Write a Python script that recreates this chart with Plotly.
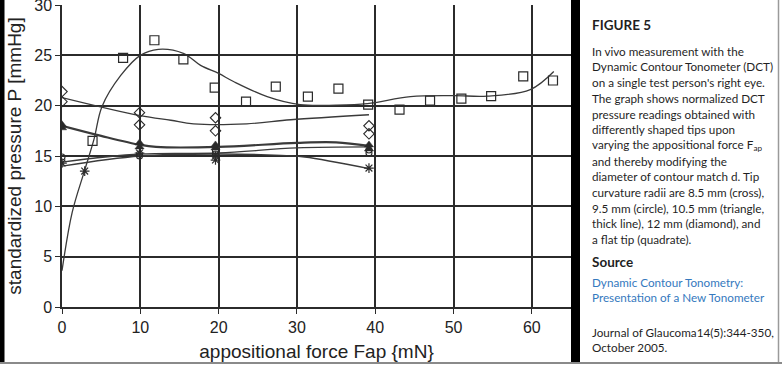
import plotly.graph_objects as go

# ---------------- data ----------------
# flat tip (quadrate)
quad_x = [3.9, 7.8, 11.8, 15.5, 19.5, 23.5, 27.3, 31.4, 35.3, 39.1, 43.1, 47.0, 51.0, 54.8, 58.9, 62.7]
quad_y = [16.5, 24.75, 26.5, 24.6, 21.8, 20.4, 21.9, 20.9, 21.7, 20.1, 19.6, 20.5, 20.7, 20.95, 22.9, 22.5]
quad_fit_x = [0, 1.3, 2.9, 4.1, 5.1, 7.5, 10, 12.3, 15.5, 17.7, 20, 21.9, 26.2, 30.4, 35, 39, 44.5, 50, 54.3, 59.8, 62.8]
quad_fit_y = [3.6, 9.4, 13.6, 16.7, 19.9, 23.0, 25.0, 25.6, 25.2, 24.0, 23.2, 22.4, 20.9, 20.1, 20.05, 20.2, 20.9, 21.0, 20.95, 21.6, 23.4]

# 12 mm (diamond)
dia_x = [0, 0, 9.9, 9.9, 19.6, 19.6, 39.2, 39.2]
dia_y = [21.4, 20.4, 19.3, 18.1, 18.8, 17.5, 18.0, 17.2]
dia_fit_x = [0, 10, 13.9, 16.8, 23.6, 29.2, 39.2]
dia_fit_y = [20.8, 19.0, 18.55, 18.2, 18.2, 18.6, 19.1]

# 10.5 mm (triangle, thick line)
tri_x = [0, 0, 9.9, 9.9, 19.6, 19.6, 39.2, 39.2]
tri_y = [18.1, 17.8, 16.3, 15.9, 16.1, 15.8, 16.1, 15.7]
tri_fit_x = [0, 5, 10, 12, 20, 30, 35, 39.2]
tri_fit_y = [18.0, 17.0, 16.1, 15.9, 15.9, 16.3, 16.35, 16.0]

# 9.5 mm (circle)
cir_x = [0, 9.9, 9.9, 19.6, 19.6, 39.2, 39.2]
cir_y = [14.9, 15.2, 15.0, 15.5, 15.2, 15.6, 15.3]
cir_fit_x = [0, 10, 20, 30, 39.2]
cir_fit_y = [14.4, 15.2, 15.3, 15.8, 15.9]

# 8.5 mm (cross)
crs_x = [0, 2.9, 9.9, 19.6, 19.6, 39.2]
crs_y = [14.3, 13.5, 15.3, 14.6, 15.0, 13.8]
crs_fit_x = [0, 10, 20, 28, 31, 39.2]
crs_fit_y = [14.0, 15.0, 15.2, 15.06, 14.9, 13.75]

x_ticks = [0, 10, 20, 30, 40, 50, 60]
y_ticks = [0, 5, 10, 15, 20, 25, 30]

caption_lines = [
    "In vivo measurement with the",
    "Dynamic Contour Tonometer (DCT)",
    "on a single test person's right eye.",
    "The graph shows normalized DCT",
    "pressure readings obtained with",
    "differently shaped tips upon",
    "varying the appositional force F<sub>ap</sub>",
    "and thereby modifying the",
    "diameter of contour match d. Tip",
    "curvature radii are 8.5 mm (cross),",
    "9.5 mm (circle), 10.5 mm (triangle,",
    "thick line), 12 mm (diamond), and",
    "a flat tip (quadrate).",
]
source_lines = ["Dynamic Contour Tonometry:", "Presentation of a New Tonometer"]
journal_lines = ["Journal of Glaucoma14(5):344-350,", "October 2005."]

# ---------------- figure ----------------
W, H = 782, 369
ML, MR, MT, MB = 62, 211, 5, 62
PW, PH = W - ML - MR, H - MT - MB


def px(xp):
    return (xp - ML) / PW


def py(yp):
    return (H - MB - yp) / PH


LINE = "#3a3a3a"
MK = "#2a2a2a"

fig = go.Figure()

for fx, fy, w in [(quad_fit_x, quad_fit_y, 1.3), (dia_fit_x, dia_fit_y, 1.3),
                  (cir_fit_x, cir_fit_y, 1.3), (crs_fit_x, crs_fit_y, 1.3),
                  (tri_fit_x, tri_fit_y, 2.2)]:
    fig.add_trace(go.Scatter(x=fx, y=fy, mode="lines", line=dict(color=LINE, width=w, shape="spline", smoothing=1.0),
                             hoverinfo="skip", showlegend=False))

fig.add_trace(go.Scatter(x=quad_x, y=quad_y, mode="markers", showlegend=False,
                         marker=dict(symbol="square-open", size=9, color=MK, line=dict(width=1.2, color=MK))))
fig.add_trace(go.Scatter(x=dia_x, y=dia_y, mode="markers", showlegend=False,
                         marker=dict(symbol="diamond-open", size=8, color=MK, line=dict(width=1.1, color=MK))))
fig.add_trace(go.Scatter(x=tri_x, y=tri_y, mode="markers", showlegend=False,
                         marker=dict(symbol="triangle-up", size=8, color=MK, line=dict(width=0.5, color=MK))))
fig.add_trace(go.Scatter(x=cir_x, y=cir_y, mode="markers", showlegend=False,
                         marker=dict(symbol="circle-open", size=6, color=MK, line=dict(width=1.1, color=MK))))
fig.add_trace(go.Scatter(x=crs_x, y=crs_y, mode="markers", showlegend=False,
                         marker=dict(symbol="asterisk-open", size=8, color=MK, line=dict(width=1.2, color=MK))))

axis_font = dict(family="Liberation Sans, Arial, sans-serif", size=16, color="#222")
fig.update_xaxes(range=[0, 65], tickvals=x_ticks, showgrid=True, gridcolor="#2b2b2b", gridwidth=1.5,
                 zeroline=False, showline=True, linecolor="#2b2b2b", linewidth=1.5,
                 ticks="outside", ticklen=5, tickcolor="#2b2b2b", tickwidth=1.2, tickfont=axis_font,
                 ticklabeloverflow="allow",
                 title=dict(text="appositional force Fap {mN}", standoff=10,
                            font=dict(family="Liberation Sans, Arial, sans-serif", size=19, color="#222")))
fig.update_yaxes(range=[0, 30], tickvals=y_ticks, showgrid=True, gridcolor="#2b2b2b", gridwidth=1.5,
                 zeroline=False, showline=True, linecolor="#2b2b2b", linewidth=1.5,
                 ticks="outside", ticklen=5, tickcolor="#2b2b2b", tickwidth=1.2, tickfont=axis_font,
                 ticklabeloverflow="allow",
                 title=dict(text="standardized pressure P [mmHg]", standoff=8,
                            font=dict(family="Liberation Sans, Arial, sans-serif", size=19, color="#222")))

shapes = [
    # left black strip
    dict(type="rect", xref="paper", yref="paper", x0=px(0), x1=px(4.5), y0=py(362), y1=py(0),
         fillcolor="black", line=dict(width=0), layer="above"),
    # black separator
    dict(type="rect", xref="paper", yref="paper", x0=px(571), x1=px(580), y0=py(362), y1=py(0),
         fillcolor="black", line=dict(width=0), layer="above"),
    # right border
    dict(type="line", xref="paper", yref="paper", x0=px(778.5), x1=px(778.5), y0=py(362), y1=py(0),
         line=dict(color="#9a9a9a", width=1.5)),
    # bottom border
    dict(type="line", xref="paper", yref="paper", x0=px(0), x1=px(782), y0=py(363), y1=py(363),
         line=dict(color="#8a8a8a", width=2)),
]

TXT = "#1f1f1f"
ann = []
PANEL_FONT = "Lato, Noto Sans, sans-serif"
FS = 11.7
ann.append(dict(text="<b>FIGURE 5</b>", x=px(590), y=py(25), xref="paper", yref="paper",
                xanchor="left", yanchor="middle", showarrow=False,
                font=dict(family=PANEL_FONT, size=13.5, color=TXT)))
y0 = 50.7
for i, line in enumerate(caption_lines):
    ann.append(dict(text=line, x=px(590), y=py(y0 + i * 15.7), xref="paper", yref="paper",
                    xanchor="left", yanchor="middle", showarrow=False,
                    font=dict(family=PANEL_FONT, size=FS, color=TXT)))
ann.append(dict(text="<b>Source</b>", x=px(590), y=py(261.5), xref="paper", yref="paper",
                xanchor="left", yanchor="middle", showarrow=False,
                font=dict(family=PANEL_FONT, size=13.5, color=TXT)))
for i, line in enumerate(source_lines):
    ann.append(dict(text=line, x=px(590), y=py(281.7 + i * 15.7), xref="paper", yref="paper",
                    xanchor="left", yanchor="middle", showarrow=False,
                    font=dict(family=PANEL_FONT, size=FS, color="#3579be")))
for i, line in enumerate(journal_lines):
    ann.append(dict(text=line, x=px(590), y=py(331.7 + i * 15.3), xref="paper", yref="paper",
                    xanchor="left", yanchor="middle", showarrow=False,
                    font=dict(family=PANEL_FONT, size=FS, color=TXT)))

fig.update_layout(width=W, height=H, margin=dict(l=ML, r=MR, t=MT, b=MB, autoexpand=False),
                  paper_bgcolor="white", plot_bgcolor="white", showlegend=False,
                  shapes=shapes, annotations=ann)

fig.write_html("out.html", config={"displayModeBar": False},
               post_script="document.body.style.margin='0';document.body.style.padding='0';")
